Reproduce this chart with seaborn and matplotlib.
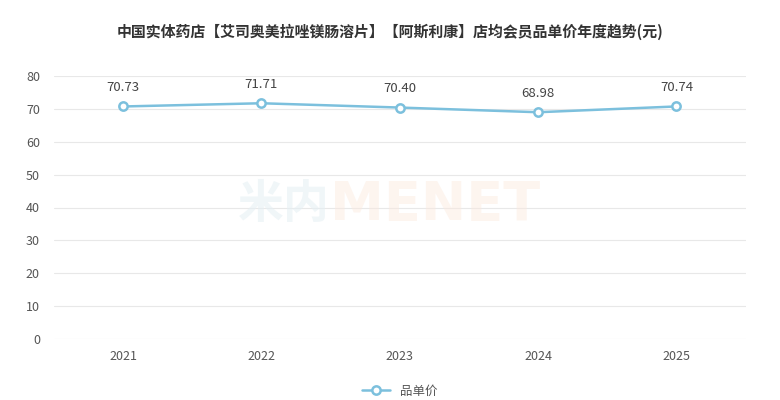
import pandas as pd
import matplotlib
matplotlib.use("Agg")
import matplotlib.pyplot as plt
import seaborn as sns

years = ["2021", "2022", "2023", "2024", "2025"]
prices = [70.73, 71.71, 70.40, 68.98, 70.74]
y_ticks = [0, 10, 20, 30, 40, 50, 60, 70, 80]
title = "中国实体药店【艾司奥美拉唑镁肠溶片】【阿斯利康】店均会员品单价年度趋势(元)"
series_name = "品单价"

sns.set_style("white")
plt.rcParams['font.family'] = ['Noto Sans CJK SC', 'DejaVu Sans']

df = pd.DataFrame({"year": years, "price": prices})
df["pos"] = range(len(df))

line_color = "#7cc0dd"

fig = plt.figure(figsize=(7.8, 4.0), dpi=100)
ax = fig.add_axes([0.069, 0.1525, 0.887, 0.6575])

# watermark
fig.text(0.423, 0.487, "米内", fontsize=33, fontweight="bold", color="#e6f0f4",
         ha="right", va="center", alpha=0.6, zorder=0)
fig.text(0.423, 0.487, "MENET", fontsize=39, fontweight="bold", color="#fbe9dd",
         ha="left", va="center", alpha=0.45, zorder=0,
         family=["DejaVu Sans"])

sns.lineplot(data=df, x="pos", y="price", ax=ax, color=line_color, linewidth=1.8,
             marker="o", markersize=6, markerfacecolor="white",
             markeredgecolor=line_color, markeredgewidth=1.8, label=series_name,
             zorder=3)

for x, y in zip(df["pos"], df["price"]):
    ax.annotate(f"{y:.2f}", (x, y), xytext=(0, 9), textcoords="offset points",
                ha="center", va="bottom", fontsize=9.5, color="#444444")

ax.set_xlim(-0.5, len(years) - 0.5)
ax.set_ylim(0, 80)
ax.set_xticks(df["pos"])
ax.set_xticklabels(years)
ax.set_yticks(y_ticks)
ax.tick_params(axis="both", length=0, labelsize=9, colors="#555555")
ax.tick_params(axis="x", pad=8)
ax.tick_params(axis="y", pad=10)
ax.grid(axis="y", color="#e8e8e8", linewidth=0.8)
ax.set_axisbelow(True)
for s in ax.spines.values():
    s.set_visible(False)
ax.set_xlabel("")
ax.set_ylabel("")
ax.patch.set_alpha(0)

fig.suptitle(title, x=0.5, y=0.94, fontsize=10.75, fontweight="bold", color="#333333")

leg = ax.legend(loc="upper center", bbox_to_anchor=(0.5, -0.13), frameon=False,
                fontsize=9, handlelength=2.2)
for t in leg.get_texts():
    t.set_color("#555555")

fig.savefig("out.png", dpi=100)
